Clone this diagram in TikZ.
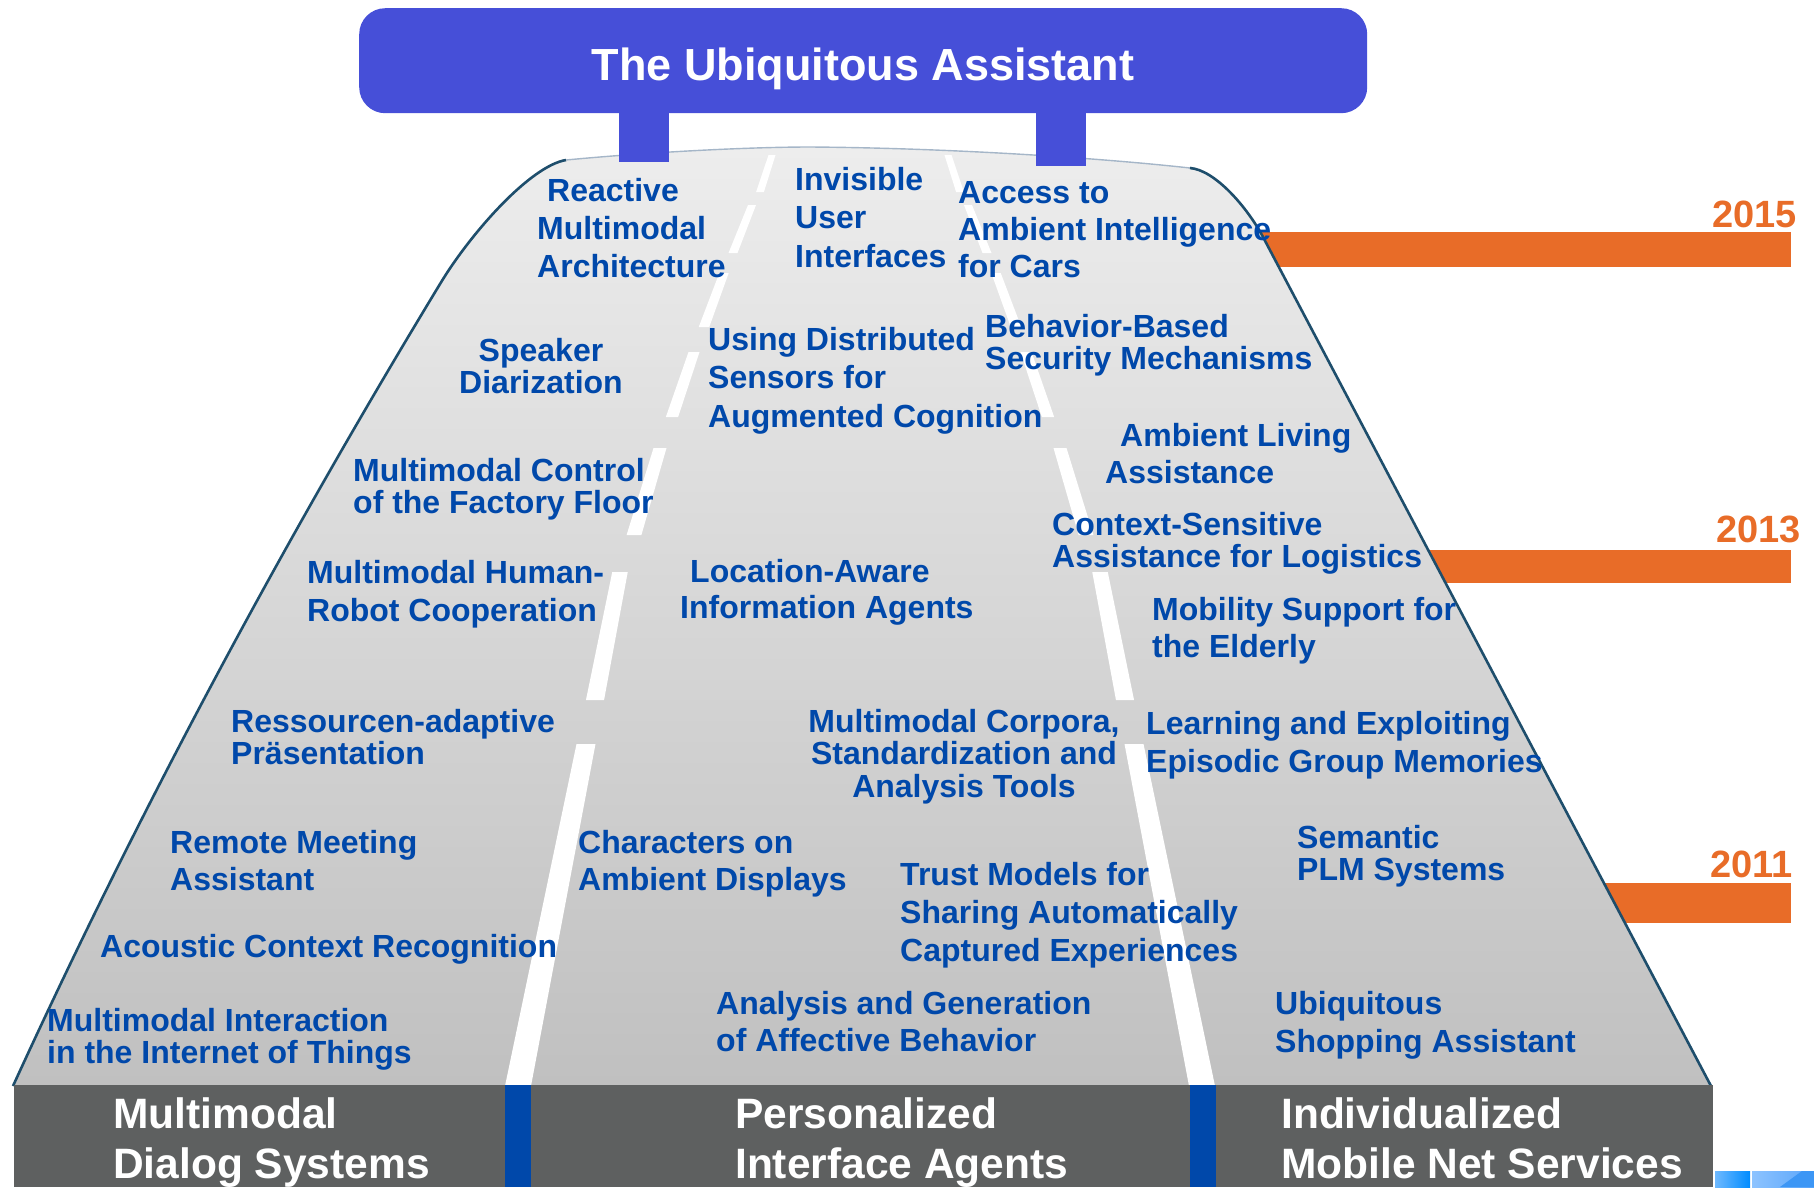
\documentclass[tikz,border=0pt]{standalone}
\usepackage{fontspec}
\setmainfont{Liberation Sans}
\definecolor{labblue}{RGB}{0,72,170}
\definecolor{titleblue}{RGB}{70,79,216}
\definecolor{barorange}{RGB}{232,108,40}
\definecolor{banddark}{RGB}{94,96,96}
\definecolor{edgeteal}{RGB}{30,78,108}
\definecolor{topedge}{RGB}{165,182,200}
\definecolor{roadtop}{RGB}{237,237,237}
\definecolor{roadbot}{RGB}{192,192,192}
\definecolor{logoA}{RGB}{110,185,255}
\definecolor{logoB}{RGB}{0,140,255}
\definecolor{logoC}{RGB}{140,195,255}
\definecolor{logoD}{RGB}{90,165,250}
\definecolor{logoE}{RGB}{60,150,245}
\newcommand\labl[2]{\fontsize{32}{#1}\selectfont\begin{tabular}[t]{@{}l@{}}#2\end{tabular}}
\newcommand\labc[2]{\fontsize{32}{#1}\selectfont\begin{tabular}[t]{@{}c@{}}#2\end{tabular}}
\newcommand\bandl[1]{\fontsize{42.5}{50}\selectfont\begin{tabular}[t]{@{}l@{}}#1\end{tabular}}
\newcommand\lanedash[6]{\fill[white] ({#2-#3/2},#1) -- ({#2+#3/2},#1) -- ({#5+#6/2},#4) -- ({#5-#6/2},#4) -- cycle;}
\tikzset{
  lab/.style={anchor=base west, inner sep=0pt, text=labblue, font=\bfseries\fontsize{32}{38}\selectfont},
  labcen/.style={lab, anchor=base},
  bandtext/.style={anchor=base west, inner sep=0pt, text=white, font=\bfseries\fontsize{42.5}{50}\selectfont},
  year/.style={anchor=base east, inner sep=0pt, text=barorange, font=\bfseries\fontsize{38}{40}\selectfont},
  bar/.style={fill=barorange},
  roadedge/.style={draw=edgeteal, line width=2.6pt},
  roadtopedge/.style={draw=topedge, line width=1.4pt},
}
\begin{document}
\begin{tikzpicture}[x=1pt,y=-1pt]
\useasboundingbox (0,0) rectangle (1814,1187);
% timeline bars
\fill[bar] (1250,232) rectangle (1791,267);
\fill[bar] (1420,550) rectangle (1791,583);
\fill[bar] (1590,883) rectangle (1791,923);
% road
\shade[top color=roadtop, bottom color=roadbot] (13,1086) .. controls (135,819) and (278,551) .. (440,284) .. controls (470,234) and (530,166) .. (566,160) .. controls (650,152) and (750,147) .. (810,147) .. controls (950,148) and (1100,158) .. (1190,168) .. controls (1215,170) and (1247,207) .. (1263,237) -- (1711,1086) -- cycle;
\draw[roadedge] (13,1086) .. controls (135,819) and (278,551) .. (440,284) .. controls (470,234) and (530,166) .. (566,160);
\draw[roadtopedge] (566,160) .. controls (650,152) and (750,147) .. (810,147) .. controls (950,148) and (1100,158) .. (1190,168);
\draw[roadedge] (1190,168) .. controls (1215,170) and (1247,207) .. (1263,237) -- (1711,1086);
% lane markers
\lanedash{155}{772}{7}{192}{760}{7.8}
\lanedash{205}{752}{8}{253}{733}{9}
\lanedash{273}{724}{9.4}{327}{704}{10.5}
\lanedash{352}{694}{11}{417}{672}{12.3}
\lanedash{448}{660}{13}{535}{634}{14.8}
\lanedash{572}{620}{15.5}{700}{595}{18.1}
\lanedash{744}{586}{19}{1086}{518}{26}
\lanedash{155}{948}{7}{192}{960}{7.8}
\lanedash{205}{968}{8}{253}{987}{9}
\lanedash{273}{996}{9.4}{327}{1016}{10.5}
\lanedash{352}{1026}{11}{417}{1048}{12.3}
\lanedash{448}{1060}{13}{535}{1086}{14.8}
\lanedash{572}{1100}{15.5}{700}{1125}{18.1}
\lanedash{744}{1134}{19}{1086}{1202}{26}
% posts and title
\fill[titleblue] (619,100) rectangle (669,162);
\fill[titleblue] (1036,100) rectangle (1086,166);
\node[fill=titleblue, rounded corners=26pt, minimum width=1008pt, minimum height=105pt, inner sep=0pt, anchor=north west] (titlebox) at (359,8) {};
\node[anchor=base, inner sep=0pt, text=white, font=\bfseries\fontsize{45}{50}\selectfont] (title) at (863,80) {The Ubiquitous Assistant};
% bottom band
\fill[banddark] (14,1085) rectangle (1713,1187);
\fill[labblue] (505,1085) rectangle (531,1187);
\fill[labblue] (1190,1085) rectangle (1216,1187);
\shade[left color=logoA, right color=logoB] (1715,1171) rectangle (1750,1187);
\shade[left color=logoC, right color=logoD] (1752,1171) rectangle (1814,1187);
\fill[logoE] (1780,1187) -- (1802,1171) -- (1814,1171) -- (1814,1187) -- cycle;
\node[bandtext] (mds) at (113,1128) {\bandl{Multimodal\\Dialog Systems}};
\node[bandtext] (pia) at (735,1128) {\bandl{Personalized\\Interface Agents}};
\node[bandtext] (imns) at (1281,1128) {\bandl{Individualized\\Mobile Net Services}};
% years
\node[year] (y2015) at (1797,227) {2015};
\node[year] (y2013) at (1801,542) {2013};
\node[year] (y2011) at (1793,877) {2011};
% labels
\node[lab] (reactive) at (537,201) {\labl{38}{\hspace*{10pt}Reactive\\Multimodal\\Architecture}};
\node[lab] (invisible) at (795,190) {\labl{38.5}{Invisible\\User\\Interfaces}};
\node[lab] (access) at (958,203) {\labl{37}{Access to\\Ambient Intelligence\\for Cars}};
\node[labcen] (speaker) at (541,361) {\labc{32}{Speaker\\Diarization}};
\node[lab] (using) at (708,350) {\labl{38.5}{Using Distributed\\Sensors for\\Augmented Cognition}};
\node[lab] (behavior) at (985,337) {\labl{31.5}{Behavior-Based\\Security Mechanisms}};
\node[lab] (ambient) at (1105,446) {\labl{37}{\hspace*{15pt}Ambient Living\\Assistance}};
\node[lab] (factory) at (353,481) {\labl{32}{Multimodal Control\\of the Factory Floor}};
\node[lab] (context) at (1052,535) {\labl{32}{Context-Sensitive\\Assistance for Logistics}};
\node[lab] (robot) at (307,583) {\labl{38}{Multimodal Human-\\Robot Cooperation}};
\node[lab] (location) at (680,582) {\labl{36.5}{\hspace*{10pt}Location-Aware\\Information Agents}};
\node[lab] (mobility) at (1152,620) {\labl{37}{Mobility Support for\\the Elderly}};
\node[lab] (ressourcen) at (231,732) {\labl{32}{Ressourcen-adaptive\\Präsentation}};
\node[labcen] (corpora) at (964,732) {\labc{31.5}{Multimodal Corpora,\\Standardization and\\Analysis Tools}};
\node[lab] (learning) at (1146,734) {\labl{38}{Learning and Exploiting\\Episodic Group Memories}};
\node[lab] (remote) at (170,853) {\labl{37}{Remote Meeting\\Assistant}};
\node[lab] (characters) at (578,853) {\labl{37}{Characters on\\Ambient Displays}};
\node[lab] (semantic) at (1297,848) {\labl{32}{Semantic\\PLM Systems}};
\node[lab] (trust) at (900,885) {\labl{38}{Trust Models for\\Sharing Automatically\\Captured Experiences}};
\node[lab] (acoustic) at (100,957) {Acoustic Context Recognition};
\node[lab] (iot) at (47,1031) {\labl{32}{Multimodal Interaction\\in the Internet of Things}};
\node[lab] (affective) at (716,1014) {\labl{37}{Analysis and Generation\\of Affective Behavior}};
\node[lab] (shopping) at (1275,1014) {\labl{38}{Ubiquitous\\Shopping Assistant}};
\end{tikzpicture}
\end{document}
